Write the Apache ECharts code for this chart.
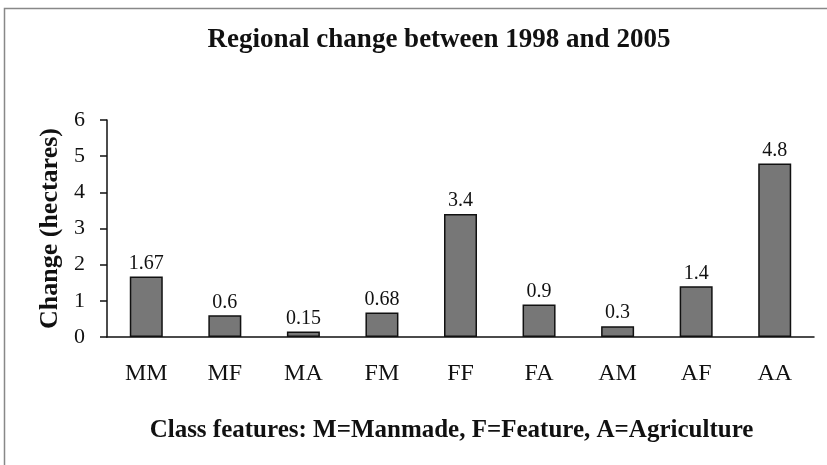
<!DOCTYPE html>
<html>
<head>
<meta charset="utf-8">
<script src="https://cdn.jsdelivr.net/npm/echarts@6/dist/echarts.min.js"></script>
<style>
html, body { margin: 0; padding: 0; background: #fff; }
#chart { width: 827px; height: 465px; }
</style>
</head>
<body>
<div id="chart"></div>
<script>
// 数据
var classes = ['MM', 'MF', 'MA', 'FM', 'FF', 'FA', 'AM', 'AF', 'AA'];
var changes = [1.67, 0.6, 0.15, 0.68, 3.4, 0.9, 0.3, 1.4, 4.8];
var yTicks = [0, 1, 2, 3, 4, 5, 6];

var serif = '"Liberation Serif", "Times New Roman", serif';

function bar(obj){
    var myChart = echarts.init(obj);

    var option = {
        backgroundColor: '#fff',
        animation: false,
        title: {
            text: 'Regional change between 1998 and 2005',
            left: 434,
            textAlign: 'center',
            top: 22,
            textStyle: { fontFamily: serif, fontSize: 27, fontWeight: 'bold', color: '#111' }
        },
        graphic: [{
            type: 'rect',
            shape: { x: 4.5, y: 8.5, width: 840, height: 480 },
            style: { fill: 'none', stroke: '#888', lineWidth: 1.5 }
        }],
        grid: { left: 107, right: 13, top: 120, bottom: 128 },
        xAxis: {
            type: 'category',
            data: classes,
            name: 'Class features: M=Manmade, F=Feature, A=Agriculture',
            nameLocation: 'middle',
            nameGap: 81,
            nameTextStyle: { fontFamily: serif, fontSize: 25, fontWeight: 'bold', color: '#111', padding: [0, 18, 0, 0] },
            axisLine: { lineStyle: { color: '#111', width: 1.5 } },
            axisTick: { length: 7, lineStyle: { color: '#111', width: 1.5 } },
            axisLabel: { fontFamily: serif, fontSize: 24, color: '#111', margin: 25 }
        },
        yAxis: {
            type: 'value',
            min: yTicks[0],
            max: yTicks[yTicks.length - 1],
            interval: 1,
            name: 'Change (hectares)',
            nameLocation: 'middle',
            nameGap: 42,
            nameTextStyle: { fontFamily: serif, fontSize: 26, fontWeight: 'bold', color: '#111' },
            axisLine: { show: true, lineStyle: { color: '#111', width: 1.5 } },
            axisTick: { show: true, length: 7, lineStyle: { color: '#111', width: 1.5 } },
            splitLine: { show: false },
            axisLabel: { fontFamily: serif, fontSize: 22, color: '#111', margin: 22 }
        },
        series: [{
            type: 'bar',
            data: changes,
            barWidth: '42%',
            itemStyle: { color: '#777', borderColor: '#111', borderWidth: 1.5 },
            label: {
                show: true,
                position: 'top',
                distance: 3,
                fontFamily: serif,
                fontSize: 20,
                color: '#111'
            }
        }]
    };

    myChart.setOption(option);
}

bar(document.getElementById('chart'));
</script>
</body>
</html>
